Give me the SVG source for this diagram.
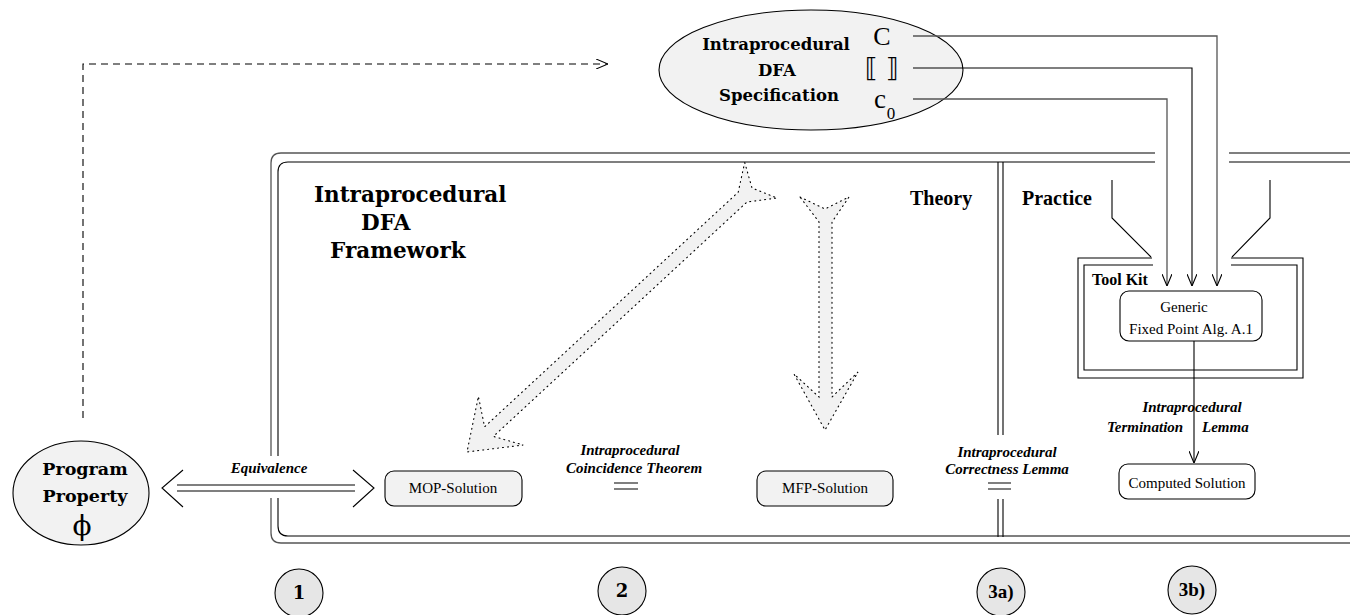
<svg xmlns="http://www.w3.org/2000/svg" width="1350" height="615" viewBox="0 0 1350 615">
<defs>
<style>
.bs{font-family:"DejaVu Serif","Liberation Serif",serif;font-weight:bold;fill:#000}
.t{font-family:"Liberation Serif",serif;fill:#000}
.tb{font-family:"Liberation Serif",serif;font-weight:bold;fill:#000}
.ti{font-family:"Liberation Serif",serif;font-weight:bold;font-style:italic;font-size:15px;fill:#000}
.ln{fill:none;stroke:#000;stroke-width:1.1}
.lg{fill:none;stroke:#555;stroke-width:1.3}
.node{fill:#f2f2f2;stroke:#000;stroke-width:1.1}
.num{fill:#e6e6e6;stroke:#000;stroke-width:1.1}
.fat{fill:#f2f2f2;stroke:#000;stroke-width:1.1;stroke-dasharray:1 4;stroke-linecap:round}
</style>
<marker id="ah" viewBox="0 0 12 10" refX="12" refY="5" markerWidth="12" markerHeight="10" markerUnits="userSpaceOnUse" orient="auto">
<path d="M0,0 L12,5 L0,10" fill="none" stroke="#000" stroke-width="1.1"/>
</marker>
</defs>
<rect width="1350" height="615" fill="#fff"/>

<g id="frame">
<path class="lg" d="M1155,153 H281 Q271,153 271,163 V456 M271,498 V533 Q271,543 281,543 H1350 M1229,153 H1350"/>
<path class="ln" d="M1155,162 H288 Q278,162 278,172 V456 M278,498 V526 Q278,536 288,536 H1350 M1229,162 H1350"/>
<path class="ln" d="M998,162 V435 M1003,162 V435 M998,499 V537 M1003,499 V537"/>
<text class="bs" x="314" y="202" font-size="21.5">Intraprocedural</text>
<text class="bs" x="361" y="230" font-size="21.5">DFA</text>
<text class="bs" x="330" y="258" font-size="21.5">Framework</text>
<text class="tb" x="910" y="205" font-size="20">Theory</text>
<text class="tb" x="1022" y="205" font-size="20">Practice</text>
</g>

<g id="spec">
<ellipse class="node" cx="811" cy="70" rx="152" ry="60"/>
<text class="bs" x="776" y="50" font-size="16.5" text-anchor="middle">Intraprocedural</text>
<text class="bs" x="777" y="76" font-size="16.5" text-anchor="middle">DFA</text>
<text class="bs" x="779" y="101" font-size="16.5" text-anchor="middle">Specification</text>
<text class="t" x="882" y="45" font-size="26" text-anchor="middle">C</text>
<text x="882" y="77" font-size="26" text-anchor="middle" font-family="DejaVu Sans,sans-serif">⟦ ⟧</text>
<text class="t" x="880" y="108" font-size="27" text-anchor="middle">c</text>
<text class="t" x="891" y="119" font-size="17" text-anchor="middle">0</text>
</g>

<g id="property">
<ellipse class="node" cx="81" cy="493" rx="68" ry="52"/>
<text class="bs" x="85" y="475" font-size="17.5" text-anchor="middle">Program</text>
<text class="bs" x="85" y="502" font-size="17.5" text-anchor="middle">Property</text>
<text x="82" y="535" font-size="28" text-anchor="middle" font-family="DejaVu Serif,serif">ϕ</text>
</g>

<g id="toolkit">
<path class="ln" d="M1152,258 H1078 V378 H1303 V258 H1231 M1153,265 H1084 V370 H1297 V265 H1231"/>
<path class="ln" d="M1112,180 V218 L1151,257 M1270,180 V218 L1232,257"/>
<text class="tb" x="1092" y="285" font-size="16">Tool Kit</text>
</g>

<g id="generic">
<rect x="1120" y="291" width="142" height="50" rx="9" fill="#fff" stroke="#000" stroke-width="1.1"/>
<text class="t" x="1184" y="312" font-size="15" text-anchor="middle">Generic</text>
<text class="t" x="1191" y="334" font-size="15" text-anchor="middle">Fixed Point Alg. A.1</text>
</g>

<g id="computed">
<rect x="1119" y="464" width="136" height="35" rx="9" fill="#fff" stroke="#000" stroke-width="1.1"/>
<text class="t" x="1187" y="488" font-size="15" text-anchor="middle">Computed Solution</text>
</g>

<g id="mop">
<rect class="node" x="385" y="471" width="137" height="35" rx="9"/>
<text class="t" x="453" y="493" font-size="15" text-anchor="middle">MOP-Solution</text>
</g>

<g id="mfp">
<rect class="node" x="757" y="471" width="136" height="35" rx="9"/>
<text class="t" x="825" y="493" font-size="15" text-anchor="middle">MFP-Solution</text>
</g>

<g id="step1"><circle class="num" cx="299" cy="593" r="24"/><text class="bs" x="299" y="599" font-size="18" text-anchor="middle">1</text></g>
<g id="step2"><circle class="num" cx="622" cy="591" r="24"/><text class="bs" x="622" y="597" font-size="18" text-anchor="middle">2</text></g>
<g id="step3a"><circle class="num" cx="1001" cy="592" r="24"/><text class="tb" x="1001" y="598" font-size="19" text-anchor="middle">3a)</text></g>
<g id="step3b"><circle class="num" cx="1192" cy="590" r="24"/><text class="tb" x="1192" y="596" font-size="19" text-anchor="middle">3b)</text></g>

<g id="connectors">
<path class="ln" stroke-dasharray="7 5" d="M83,418 V64 H608" marker-end="url(#ah)"/>
<path class="lg" d="M913,36 H1217 V286" marker-end="url(#ah)"/>
<path class="ln" d="M913,68 H1192 V286" marker-end="url(#ah)"/>
<path class="lg" d="M913,99 H1167 V286" marker-end="url(#ah)"/>
<path class="ln" d="M1194,341 V463" marker-end="url(#ah)"/>
<path class="ln" d="M177,485 H355 M177,491 H355 M183,470 L162,488 L183,507 M353,470 L374,488 L353,507"/>
<text class="ti" x="269" y="473" text-anchor="middle">Equivalence</text>
<path class="ln" d="M614,483 H638 M614,489 H638"/>
<text class="ti" x="630" y="455" text-anchor="middle">Intraprocedural</text>
<text class="ti" x="634" y="473" text-anchor="middle">Coincidence Theorem</text>
<path class="ln" d="M988,483 H1011 M988,489 H1011"/>
<text class="ti" x="1007" y="457" text-anchor="middle">Intraprocedural</text>
<text class="ti" x="1007" y="474" text-anchor="middle">Correctness Lemma</text>
<text class="ti" x="1192" y="412" text-anchor="middle">Intraprocedural</text>
<text class="ti" x="1107" y="432">Termination</text>
<text class="ti" x="1202" y="432">Lemma</text>
<polygon class="fat" points="744.7,162.4 752,188 777,198 747,202 493.4,436.4 523.2,445 467,452 478.4,396.4 484.6,426.8 738.2,192.2"/>
<polygon class="fat" points="800,197 825,209 849,197 832,222 832,397 858,372 825,430 794,374 819,397 819,222"/>
</g>
</svg>
